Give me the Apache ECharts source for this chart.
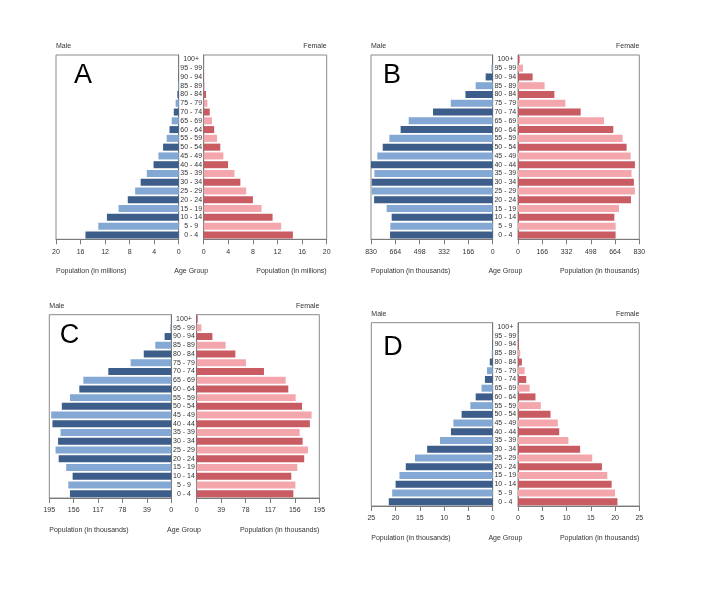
<!DOCTYPE html>
<html><head><meta charset="utf-8">
<script src="https://cdn.jsdelivr.net/npm/echarts@6/dist/echarts.min.js"></script>
<style>html,body{margin:0;padding:0;background:#fff}#c{width:721px;height:594px}</style>
</head><body><div id="c"></div>
<script>
const ageGroups = ['0 - 4','5 - 9','10 - 14','15 - 19','20 - 24','25 - 29','30 - 34','35 - 39','40 - 44','45 - 49','50 - 54','55 - 59','60 - 64','65 - 69','70 - 74','75 - 79','80 - 84','85 - 89','90 - 94','95 - 99','100+'];

const maleA   = [15.2,13.1,11.7,9.8,8.3,7.1,6.2,5.2,4.1,3.3,2.55,1.96,1.5,1.14,0.8,0.5,0.22,0.1,0.04,0.01,0.003];
const femaleA = [14.5,12.6,11.2,9.4,8.0,6.9,5.96,5.0,3.96,3.2,2.7,2.17,1.7,1.35,0.98,0.6,0.38,0.16,0.05,0.02,0.005];

const maleB   = [700,698,689,723,809,825,825,807,830,787,750,705,628,573,407,286,186,116,48,9,2];
const femaleB = [668,668,659,691,773,800,793,777,800,771,743,716,652,588,429,324,249,182,100,34,11];

const maleC   = [162,164.6,157.7,168,180,185,181,177,190,192,175,162,147,140.6,100.7,65,44,25.6,10.7,1.6,0.3];
const femaleC = [153.7,157,150.5,160,171,177,168.5,163.8,180,182.8,167.5,157.4,145.7,141.5,107,78.4,61.5,46,25,7.4,1.6];

const maleD   = [21.4,20.7,20.0,19.2,17.9,16.0,13.5,10.85,8.6,8.1,6.4,4.6,3.5,2.3,1.6,1.17,0.6,0.2,0.07,0.02,0.01];
const femaleD = [20.5,20.0,19.3,18.4,17.3,15.3,12.8,10.4,8.5,8.2,6.7,4.7,3.6,2.4,1.7,1.37,0.8,0.45,0.15,0.04,0.02];

const panelLetters = ['A','B','C','D'];
const axisMaxes = [20, 830, 195, 25];
const axisSteps = [4, 166, 39, 5];
const unitLabels = ['Population (in millions)','Population (in thousands)','Population (in thousands)','Population (in thousands)'];
const maleData = [maleA, maleB, maleC, maleD];
const femaleData = [femaleA, femaleB, femaleC, femaleD];

// layout (pixels)
const layout = [
  {L:[56,178.7], R:[203.7,326.7], top:55, bottom:239.3, letter:[83,76]},
  {L:[371,492.7], R:[518,639.3], top:55, bottom:239.3, letter:[392,76]},
  {L:[49.3,171.3], R:[196.7,319.3], top:314.7, bottom:498, letter:[69.5,336]},
  {L:[371.3,492.7], R:[518,639.3], top:322.7, bottom:506, letter:[393,347.5]}
];

const FONT = 'Liberation Sans';
const TXT = '#333';
const AX = '#7a7a7a';
const maleDark = '#3d5e8b', maleLight = '#83a8d3';
const femDark = '#c95b63', femLight = '#f3a7ac';

const grid = [], xAxis = [], yAxis = [], series = [], graphic = [];

layout.forEach((p, i) => {
  const h = p.bottom - p.top;
  const gap = p.R[0] - p.L[1];
  // male grid
  grid.push({left:p.L[0], top:p.top, width:p.L[1]-p.L[0], height:h, show:true, borderColor:'#8a8a8a', borderWidth:1, containLabel:false});
  grid.push({left:p.R[0], top:p.top, width:p.R[1]-p.R[0], height:h, show:true, borderColor:'#8a8a8a', borderWidth:1, containLabel:false});
  const xCommon = {
    type:'value', min:0, max:axisMaxes[i], interval:axisSteps[i],
    splitLine:{show:false},
    axisLine:{show:true, lineStyle:{color:AX, width:1}},
    axisTick:{show:true, length:5, lineStyle:{color:AX}},
    axisLabel:{fontSize:7, fontFamily:FONT, color:TXT, margin:9}
  };
  xAxis.push(Object.assign({gridIndex:2*i, inverse:true}, xCommon));
  xAxis.push(Object.assign({gridIndex:2*i+1}, xCommon));
  yAxis.push({type:'category', gridIndex:2*i, data:ageGroups, position:'right',
    axisLine:{show:true, lineStyle:{color:AX}}, axisTick:{show:false}, axisLabel:{show:false}});
  yAxis.push({type:'category', gridIndex:2*i+1, data:ageGroups, position:'left',
    axisLine:{show:true, lineStyle:{color:AX}}, axisTick:{show:false},
    axisLabel:{show:true, interval:0, align:'center', margin:gap/2, fontSize:7, fontFamily:FONT, color:TXT}});
  series.push({type:'bar', xAxisIndex:2*i, yAxisIndex:2*i, data:maleData[i], barCategoryGap:'20%',
    itemStyle:{color:(q)=> q.dataIndex%2===0 ? maleDark : maleLight}, silent:true, animation:false});
  series.push({type:'bar', xAxisIndex:2*i+1, yAxisIndex:2*i+1, data:femaleData[i], barCategoryGap:'20%',
    itemStyle:{color:(q)=> q.dataIndex%2===0 ? femDark : femLight}, silent:true, animation:false});

  const small = (text, x, y, align) => ({type:'text', x:x, y:y, silent:true,
    style:{text:text, fontSize:7, fontFamily:FONT, fill:TXT, align:align, verticalAlign:'middle'}});
  graphic.push(small('Male', p.L[0], p.top - 8.5, 'left'));
  graphic.push(small('Female', p.R[1], p.top - 8.5, 'right'));
  graphic.push(small(unitLabels[i], p.L[0], p.bottom + 32, 'left'));
  graphic.push(small(unitLabels[i], p.R[1], p.bottom + 32, 'right'));
  graphic.push(small('Age Group', (p.L[1]+p.R[0])/2, p.bottom + 32, 'center'));
  graphic.push({type:'text', x:p.letter[0], y:p.letter[1], silent:true, z:10,
    style:{text:panelLetters[i], fontSize:27, fontFamily:FONT, fill:'#000', align:'center', verticalAlign:'middle'}});
});

const chart = echarts.init(document.getElementById('c'), null, {renderer:'canvas'});
chart.setOption({animation:false, backgroundColor:'#fff', grid, xAxis, yAxis, series, graphic});
</script>
</body></html>
